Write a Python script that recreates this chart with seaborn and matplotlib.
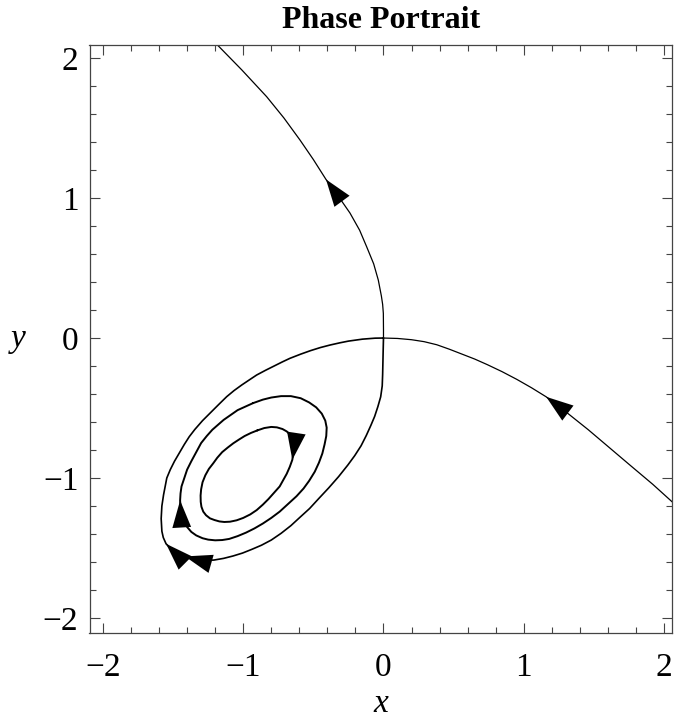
import matplotlib
matplotlib.use("Agg")
import matplotlib.pyplot as plt
import seaborn as sns
from matplotlib.ticker import MultipleLocator

# curves, each stored in the direction of the flow
# unstable branch: from the saddle up to the top left
top_x = [0.0, 0.0, -0.001, -0.006, -0.015, -0.037, -0.07, -0.12, -0.17, -0.239,
         -0.32, -0.41, -0.5, -0.595, -0.71, -0.833, -1.01, -1.21]
top_y = [0.0, 0.06, 0.176, 0.24, 0.30, 0.414, 0.53, 0.652, 0.77, 0.893,
         1.01, 1.133, 1.275, 1.414, 1.572, 1.724, 1.915, 2.12]

# stable branch: from the right edge into the saddle
right_x = [2.08, 1.92, 1.76, 1.66, 1.56, 1.46, 1.36, 1.26, 1.16, 1.055, 0.95,
           0.845, 0.74, 0.65, 0.56, 0.47, 0.38, 0.29, 0.2, 0.1, 0.0]
right_y = [-1.19, -1.045, -0.91, -0.825, -0.74, -0.655, -0.575, -0.495, -0.42, -0.355, -0.295,
           -0.24, -0.19, -0.15, -0.115, -0.08, -0.048, -0.026, -0.012, -0.003, 0.0]

# homoclinic loop, clockwise from the saddle
loop_x = [0.0, -0.002, -0.004, -0.006, -0.009, -0.02, -0.04, -0.063, -0.09, -0.123,
          -0.16, -0.205, -0.254, -0.32, -0.39, -0.46, -0.527, -0.595, -0.66, -0.73,
          -0.8, -0.87, -0.94, -1.005, -1.073, -1.14, -1.209, -1.31, -1.415, -1.5,
          -1.55, -1.57, -1.58, -1.585, -1.58, -1.568, -1.545, -1.52, -1.49, -1.455,
          -1.42, -1.385, -1.345, -1.29, -1.23, -1.175, -1.118, -1.065, -1.01, -0.955,
          -0.904, -0.84, -0.78, -0.72, -0.667, -0.59, -0.52, -0.45, -0.381, -0.31,
          -0.25, -0.15, -0.06, 0.0]
loop_y = [0.0, -0.08, -0.17, -0.26, -0.342, -0.42, -0.49, -0.56, -0.624, -0.697,
          -0.77, -0.84, -0.907, -0.99, -1.07, -1.145, -1.218, -1.28, -1.34, -1.395,
          -1.443, -1.48, -1.51, -1.536, -1.557, -1.574, -1.586, -1.59, -1.56, -1.52,
          -1.47, -1.425, -1.38, -1.29, -1.2, -1.12, -1.0, -0.94, -0.88, -0.82,
          -0.76, -0.705, -0.653, -0.59, -0.53, -0.475, -0.419, -0.375, -0.335, -0.298,
          -0.264, -0.23, -0.2, -0.17, -0.145, -0.115, -0.09, -0.068, -0.05, -0.034,
          -0.022, -0.008, -0.001, 0.0]

# middle closed orbit, clockwise
mid_x = [-0.93, -0.86, -0.8, -0.73, -0.66, -0.59, -0.53, -0.48, -0.44, -0.415,
         -0.405, -0.408, -0.42, -0.436, -0.46, -0.49, -0.53, -0.57, -0.62, -0.68,
         -0.74, -0.8, -0.86, -0.92, -0.98, -1.04, -1.1, -1.15, -1.2, -1.25,
         -1.29, -1.335, -1.37, -1.4, -1.42, -1.438, -1.447, -1.45, -1.447, -1.44,
         -1.42, -1.4, -1.37, -1.335, -1.3, -1.26, -1.22, -1.18, -1.14, -1.09,
         -1.04, -0.985, -0.93]
mid_y = [-0.465, -0.44, -0.425, -0.415, -0.415, -0.43, -0.46, -0.495, -0.54, -0.59,
         -0.64, -0.7, -0.76, -0.825, -0.89, -0.955, -1.02, -1.075, -1.13, -1.185,
         -1.24, -1.285, -1.325, -1.36, -1.39, -1.415, -1.435, -1.443, -1.445, -1.44,
         -1.43, -1.41, -1.385, -1.35, -1.31, -1.26, -1.21, -1.16, -1.11, -1.06,
         -1.0, -0.94, -0.88, -0.815, -0.75, -0.7, -0.655, -0.62, -0.585, -0.55,
         -0.515, -0.49, -0.465]

# inner closed orbit, clockwise
inner_x = [-0.9, -0.85, -0.8, -0.76, -0.72, -0.69, -0.665, -0.648, -0.64, -0.641,
           -0.65, -0.668, -0.69, -0.715, -0.74, -0.78, -0.82, -0.86, -0.904, -0.95,
           -1.0, -1.047, -1.094, -1.135, -1.17, -1.205, -1.237, -1.265, -1.285, -1.298,
           -1.303, -1.304, -1.3, -1.29, -1.27, -1.245, -1.214, -1.185, -1.15, -1.11,
           -1.071, -1.03, -0.99, -0.945, -0.9]
inner_y = [-0.66, -0.643, -0.635, -0.638, -0.65, -0.667, -0.69, -0.72, -0.76, -0.81,
           -0.87, -0.92, -0.97, -1.015, -1.06, -1.105, -1.15, -1.19, -1.229, -1.26,
           -1.285, -1.302, -1.312, -1.314, -1.31, -1.3, -1.288, -1.266, -1.24, -1.205,
           -1.17, -1.125, -1.08, -1.03, -0.98, -0.935, -0.895, -0.855, -0.815, -0.782,
           -0.752, -0.725, -0.7, -0.678, -0.66]

# (curve, index of the arrow tip)
arrow_marks = [("top", 11), ("right", 8), ("loop", 28), ("loop", 30),
               ("mid", 37), ("inner", 10)]

x_ticks = [-2, -1, 0, 1, 2]
y_ticks = [-2, -1, 0, 1, 2]

curves = {
    "top": (top_x, top_y, 0.9),
    "right": (right_x, right_y, 0.9),
    "loop": (loop_x, loop_y, 1.2),
    "mid": (mid_x, mid_y, 1.4),
    "inner": (inner_x, inner_y, 1.4),
}

sns.set_theme(style="ticks")
plt.rcParams["font.family"] = ["Liberation Serif", "DejaVu Serif"]
plt.rcParams["text.color"] = "black"
plt.rcParams["axes.labelcolor"] = "black"

fig = plt.figure(figsize=(6.75, 7.19), dpi=100)
ax = fig.add_axes([89.5 / 675, 1 - 633 / 719, (672 - 89.5) / 675, (633 - 44.6) / 719])

for name, (cx, cy, lw) in curves.items():
    sns.lineplot(x=cx, y=cy, sort=False, estimator=None, color="black",
                 linewidth=lw, ax=ax)

for name, i in arrow_marks:
    cx, cy, _ = curves[name]
    ax.annotate("", xy=(cx[i], cy[i]), xytext=(cx[i - 1], cy[i - 1]),
                arrowprops=dict(arrowstyle="-|>,head_length=1.3,head_width=0.45",
                                mutation_scale=15, color="black", lw=0.01,
                                shrinkA=0, shrinkB=0))

ax.set_xlim(-2.096, 2.057)
ax.set_ylim(-2.107, 2.096)
ax.set_xticks(x_ticks)
ax.set_yticks(y_ticks)
ax.xaxis.set_minor_locator(MultipleLocator(0.2))
ax.yaxis.set_minor_locator(MultipleLocator(0.2))
ax.tick_params(which="both", direction="in", top=True, right=True,
               colors="#444444", labelcolor="black", labelsize=24, width=0.8)
ax.tick_params(which="major", length=7)
ax.tick_params(which="minor", length=4)
ax.tick_params(axis="x", which="major", pad=14)
ax.tick_params(axis="y", which="major", pad=8)
for s in ax.spines.values():
    s.set_color("#444444")
    s.set_linewidth(0.9)

ax.set_title("Phase Portrait", fontsize=23, fontweight="bold", pad=12, color="black")
ax.set_xlabel("x", fontsize=24, fontstyle="italic")
ax.set_ylabel("y", fontsize=24, fontstyle="italic", rotation=0)
ax.xaxis.set_label_coords(0.5, -0.12)
ax.yaxis.set_label_coords(-0.123, 0.5)
ax.yaxis.label.set_verticalalignment("center")
ax.xaxis.label.set_verticalalignment("center")

fig.savefig("out.png", dpi=100)
